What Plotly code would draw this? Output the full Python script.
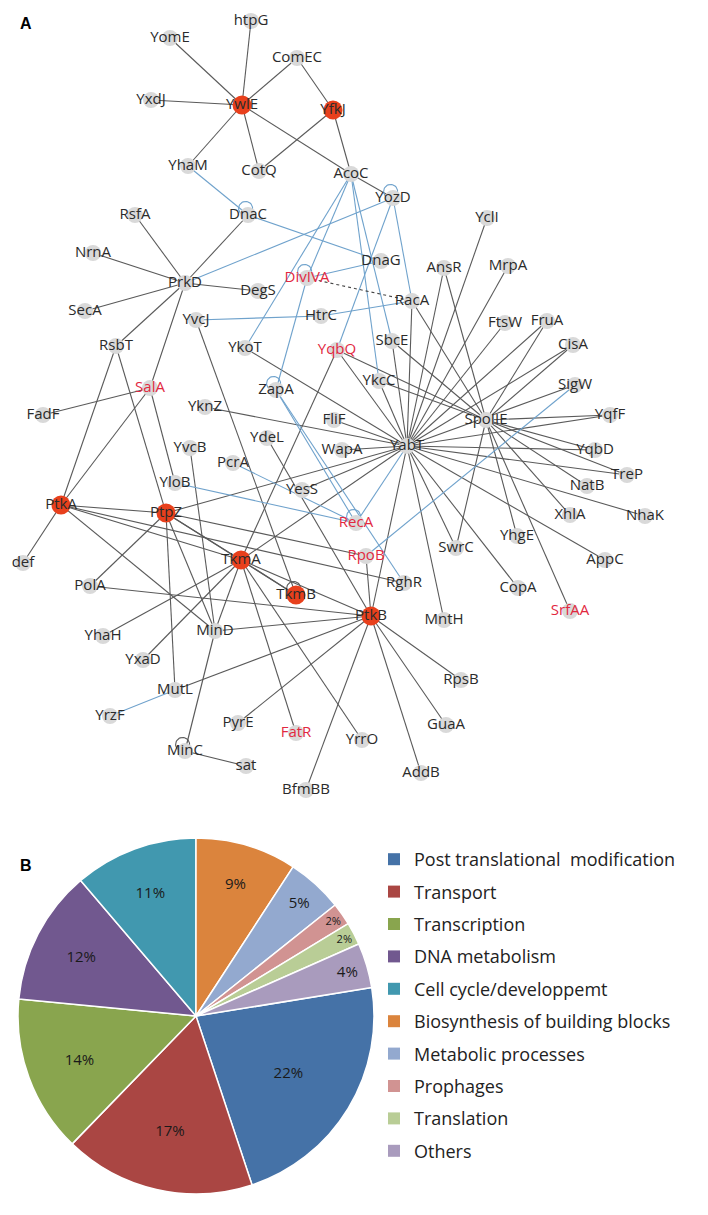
import plotly.graph_objects as go
import math

# ---------------- Network data ----------------
node_names = ["YomE","htpG","ComEC","YxdJ","YwlE","YfkJ","YhaM","CotQ","AcoC","YozD","DnaC",
    "RsfA","NrnA","PrkD","DegS","SecA","YvcJ","DivIVA","DnaG","AnsR","RacA","HtrC","SbcE","YqbQ",
    "YkcC","ZapA","YkoT","YclI","MrpA","FtsW","FruA","CisA","SigW","SpoIIE","YqfF","YqbD","TreP",
    "NatB","XhlA","NhaK","YhgE","AppC","CopA","SrfAA","YabT","FliF","YdeL","WapA","YesS","RecA",
    "RpoB","SwrC","RghR","TkmB","TkmA","PtkB","MntH","RpsB","GuaA","AddB","YrrO","FatR","BfmBB",
    "PyrE","sat","MinC","MutL","YrzF","MinD","YhaH","YxaD","PolA","def","PtkA","PtpZ","YloB",
    "YvcB","PcrA","FadF","YknZ","SalA","RsbT"]
node_x = [162,243,289,143,234,325,180,251,343,385,240,
    127,85,177,250,77,188,299,373,436,404,313,384,329,
    371,268,237,479,500,497,539,565,567,478,602,587,619,
    579,562,637,509,597,510,562,399,326,259,334,294,348,
    358,448,396,288,233,363,436,453,438,413,354,288,298,
    230,238,177,167,102,207,95,135,82,15,53,158,167,
    182,225,35,197,142,108]
node_y = [30,13,50,92,97,102,158,163,166,190,207,
    207,245,275,283,303,312,270,253,260,293,308,333,342,
    373,382,340,210,258,315,313,337,377,412,407,442,467,
    478,507,508,528,552,580,603,438,412,430,442,482,515,
    548,540,575,587,552,608,612,672,717,765,732,725,782,
    715,758,743,682,708,623,628,652,578,555,497,505,475,
    440,455,407,399,380,338]
hub_nodes = ["YwlE","YfkJ","PtkA","PtpZ","TkmA","TkmB","PtkB"]
red_labels = ["DivIVA","YqbQ","SalA","RecA","RpoB","FatR","SrfAA"]

black_edges = [("YomE","YwlE"),("YxdJ","YwlE"),("YhaM","YwlE"),("htpG","YwlE"),("ComEC","YwlE"),
    ("ComEC","YfkJ"),("YwlE","CotQ"),("YwlE","AcoC"),("YfkJ","CotQ"),("YfkJ","AcoC"),("AcoC","YozD"),
    ("PrkD","DnaC"),("PrkD","RsfA"),("PrkD","NrnA"),("PrkD","SecA"),("PrkD","DegS"),("PrkD","RsbT"),
    ("PrkD","SalA"),("RsbT","PtkA"),("RsbT","PtpZ"),("SalA","PtkA"),("SalA","FadF"),("SalA","YloB"),
    ("PtkA","def"),("PtkA","PtpZ"),("PtkA","TkmA"),("PtkA","MinD"),("PtkA","RghR"),
    ("PtpZ","PolA"),("PtpZ","MinD"),("PtpZ","MutL"),("PtpZ","TkmA"),("PtpZ","YabT"),("PtpZ","RpoB"),
    ("PtpZ","TkmB"),("TkmA","YhaH"),("TkmA","YxaD"),("TkmA","YqbQ"),("TkmA","YabT"),("TkmA","PtkB"),
    ("TkmA","FatR"),("TkmA","YrrO"),("TkmA","MinD"),("TkmA","TkmB"),("YvcJ","TkmB"),("YvcB","MinD"),
    ("YkoT","YabT"),("YknZ","YabT"),("FliF","YabT"),("WapA","YabT"),("YdeL","PtkB"),("YesS","YabT"),
    ("PolA","PtkB"),("MutL","PtkB"),("MinD","PtkB"),("MinD","MinC"),("MinC","sat"),
    ("PtkB","PyrE"),("PtkB","BfmBB"),("PtkB","AddB"),("PtkB","GuaA"),("PtkB","RpsB"),("PtkB","YabT"),
    ("PtkB","RpoB"),("YabT","MntH"),("YabT","SwrC"),("SpoIIE","SwrC"),("YabT","CopA"),("YabT","AppC"),
    ("YabT","NhaK"),("YabT","TreP"),("YabT","YqbD"),("YabT","YqfF"),("YabT","SigW"),("YabT","CisA"),
    ("YabT","FruA"),("YabT","FtsW"),("YabT","MrpA"),("YabT","YclI"),("YabT","AnsR"),("YabT","RacA"),
    ("YabT","SbcE"),("YabT","YkcC"),("YabT","YqbQ"),("SpoIIE","YqfF"),("SpoIIE","YqbD"),
    ("SpoIIE","TreP"),("SpoIIE","NatB"),("SpoIIE","XhlA"),("SpoIIE","YhgE"),("SpoIIE","SrfAA"),
    ("SpoIIE","CisA"),("SpoIIE","FruA"),("SpoIIE","AnsR"),("SpoIIE","RacA"),("SpoIIE","SbcE"),
    ("SpoIIE","YkcC"),("SpoIIE","YqbQ")]
blue_edges = [("YhaM","DnaC"),("DnaC","DnaG"),("PrkD","YozD"),("AcoC","YkoT"),("AcoC","YkcC"),
    ("AcoC","DivIVA"),("AcoC","SbcE"),("YozD","YqbQ"),("YozD","RacA"),("DivIVA","DnaG"),
    ("DivIVA","ZapA"),("YvcJ","HtrC"),("HtrC","RacA"),("ZapA","RecA"),("ZapA","RghR"),
    ("YloB","RecA"),("PcrA","RecA"),("RecA","YabT"),("RpoB","SigW"),("MutL","YrzF")]
dashed_edges = [("DivIVA","RacA")]
blue_loops = ["DnaC","YozD","DivIVA","ZapA","RecA"]
black_loops = ["TkmB","MinC"]

# ---------------- Pie data ----------------
categories = ["Post translational  modification","Transport","Transcription","DNA metabolism",
    "Cell cycle/developpemt","Biosynthesis of building blocks","Metabolic processes","Prophages",
    "Translation","Others"]
shares = [22,17,14,12,11,9,5,2,2,4]
share_labels = ["22%","17%","14%","12%","11%","9%","5%","2%","2%","4%"]
colors = ['#4572A7','#AA4643','#89A54E','#71588F','#4198AF','#DB843D','#93A9CF','#D19392','#B9CD96','#A99BBD']

W, H = 708, 1215
pos = {n: (x, y) for n, x, y in zip(node_names, node_x, node_y)}

def seg(edges):
    xs, ys = [], []
    for a, b in edges:
        xs += [pos[a][0], pos[b][0], None]
        ys += [pos[a][1], pos[b][1], None]
    return xs, ys

def loops(names, r=7):
    xs, ys = [], []
    for n in names:
        x0, y0 = pos[n]
        ang0 = math.radians(-110)
        cx, cy = x0 + r*math.cos(ang0), y0 + r*math.sin(ang0)
        for k in range(41):
            t = ang0 + math.pi + 2*math.pi*k/40
            xs.append(cx + r*math.cos(t)); ys.append(cy + r*math.sin(t))
        xs.append(None); ys.append(None)
    return xs, ys

fig = go.Figure()
for edges, col, dash in [(black_edges, '#5a5a5a', 'solid'), (blue_edges, '#6fa2cc', 'solid'),
                         (dashed_edges, '#444444', 'dot')]:
    xs, ys = seg(edges)
    fig.add_trace(go.Scatter(x=xs, y=ys, mode='lines', line=dict(color=col, width=1.1, dash=dash),
                             hoverinfo='skip', showlegend=False))
for names, col in [(blue_loops, '#6fa2cc'), (black_loops, '#5a5a5a')]:
    xs, ys = loops(names)
    fig.add_trace(go.Scatter(x=xs, y=ys, mode='lines', line=dict(color=col, width=1.1),
                             hoverinfo='skip', showlegend=False))

gray = [n for n in node_names if n not in hub_nodes]
fig.add_trace(go.Scatter(x=[pos[n][0] for n in gray], y=[pos[n][1] for n in gray], mode='markers',
                         marker=dict(size=16, color='#d9d9d9', line=dict(width=0)), showlegend=False, hoverinfo='skip'))
fig.add_trace(go.Scatter(x=[pos[n][0] for n in hub_nodes], y=[pos[n][1] for n in hub_nodes], mode='markers',
                         marker=dict(size=19, color='#e8401c', line=dict(width=0)), showlegend=False, hoverinfo='skip'))
fig.add_trace(go.Scatter(x=node_x, y=node_y, mode='text', text=node_names,
                         textfont=dict(family='Open Sans', size=15,
                                       color=['#e2283f' if n in red_labels else '#2b2b2b' for n in node_names]),
                         textposition='middle center', showlegend=False, hoverinfo='skip'))

# Pie
px0, px1, py0, py1 = 10, 366, 830, 1186
fig.add_trace(go.Pie(labels=categories, values=shares, text=share_labels, textinfo='text',
                     textposition='inside',
                     sort=False, direction='clockwise',
                     rotation=360 - 360*sum(shares[:5])/sum(shares),
                     marker=dict(colors=colors, line=dict(color='white', width=1.5)),
                     textfont=dict(family='Open Sans', size=15, color='#1a1a1a'),
                     insidetextorientation='horizontal', showlegend=False,
                     domain=dict(x=[px0/W, px1/W], y=[1-py1/H, 1-py0/H])))
for c, col in zip(categories, colors):
    fig.add_trace(go.Scatter(x=[None], y=[None], mode='markers', name=c, legendgroup=c,
                             marker=dict(symbol='square', size=12, color=col)))

fig.add_annotation(x=10/W, y=1-15/H, xref='paper', yref='paper', text='<b>A</b>', showarrow=False,
                   font=dict(family='Liberation Sans', size=16, color='black'), xanchor='left', yanchor='middle')
fig.add_annotation(x=10/W, y=1-857/H, xref='paper', yref='paper', text='<b>B</b>', showarrow=False,
                   font=dict(family='Liberation Sans', size=16, color='black'), xanchor='left', yanchor='middle')

fig.update_layout(width=W, height=H, margin=dict(l=0, r=0, t=0, b=0), paper_bgcolor='white',
                  plot_bgcolor='rgba(0,0,0,0)',
                  xaxis=dict(range=[0, W], visible=False, domain=[0, 1], fixedrange=True),
                  yaxis=dict(range=[H, 0], visible=False, domain=[0, 1], fixedrange=True),
                  legend=dict(x=366/W, y=1-833/H, xanchor='left', yanchor='top', tracegroupgap=6,
                              font=dict(family='Open Sans', size=18, color='#222'), itemwidth=30,
                              bgcolor='rgba(0,0,0,0)'))
fig.write_html("out.html")
